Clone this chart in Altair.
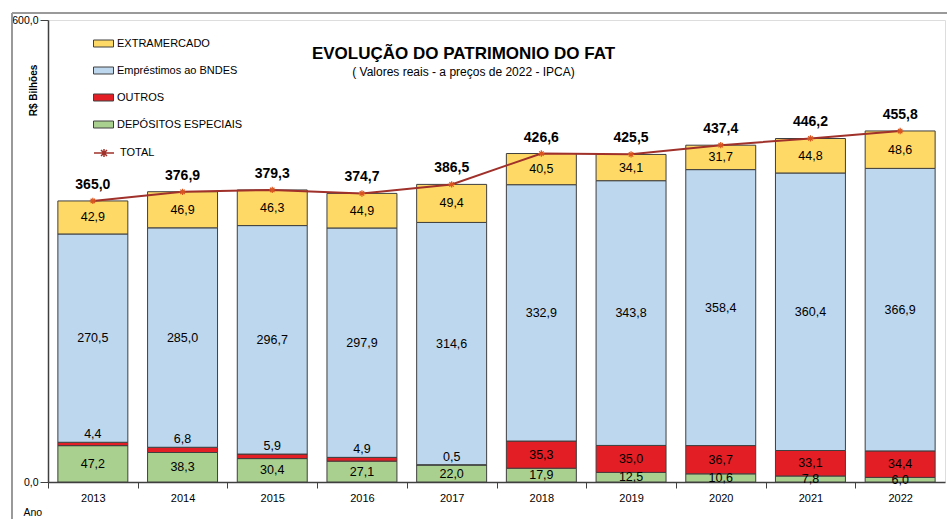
import altair as alt
import pandas as pd

anos = ["2013", "2014", "2015", "2016", "2017", "2018", "2019", "2020", "2021", "2022"]
depositos = [47.2, 38.3, 30.4, 27.1, 22.0, 17.9, 12.5, 10.6, 7.8, 6.0]
outros = [4.4, 6.8, 5.9, 4.9, 0.5, 35.3, 35.0, 36.7, 33.1, 34.4]
bndes = [270.5, 285.0, 296.7, 297.9, 314.6, 332.9, 343.8, 358.4, 360.4, 366.9]
extra = [42.9, 46.9, 46.3, 44.9, 49.4, 40.5, 34.1, 31.7, 44.8, 48.6]
total = [365.0, 376.9, 379.3, 374.7, 386.5, 426.6, 425.5, 437.4, 446.2, 455.8]

stack_series = ["DEPÓSITOS ESPECIAIS", "OUTROS", "Empréstimos ao BNDES", "EXTRAMERCADO"]
stack_values = [depositos, outros, bndes, extra]
legend_order = ["EXTRAMERCADO", "Empréstimos ao BNDES", "OUTROS", "DEPÓSITOS ESPECIAIS"]
legend_colors = ["#FFD966", "#BDD7EE", "#E41E25", "#A9D08E"]

FONT = "Liberation Sans"


def fmt(v):
    return f"{v:.1f}".replace(".", ",")


rows = []
for i, ano in enumerate(anos):
    base = 0.0
    for s, vals in zip(stack_series, stack_values):
        v = vals[i]
        rows.append({
            "ano": ano, "serie": s, "valor": v,
            "start": base, "end": base + v, "mid": base + v / 2,
            "label": fmt(v),
            "above": (s == "OUTROS" and v < 10),
        })
        base += v
df = pd.DataFrame(rows)

tot = pd.DataFrame({"ano": anos, "total": total, "label": [fmt(v) for v in total],
                    "serie": ["TOTAL"] * len(anos)})

band = 897 / 10

x_enc = alt.X(
    "ano:N",
    sort=anos,
    scale=alt.Scale(paddingInner=0.22, paddingOuter=0.11),
    axis=alt.Axis(
        title="Ano", labelAngle=0, tickOffset=-band / 2, labelOffset=band / 2,
        tickSize=6, tickColor="#404040", domainColor="#404040", domainWidth=1.5,
        labelFontSize=11, labelFont=FONT, labelColor="#000000", labelPadding=4,
        titleFont=FONT, titleFontSize=10.5, titleFontWeight="normal", titleColor="#000000",
        titleX=-25, titleY=30, titleAlign="left", titleBaseline="middle",
    ),
)

y_scale = alt.Scale(domain=[0, 600], nice=False)
y_axis = alt.Axis(
    title="R$ Bilhões", values=[0, 600], grid=False,
    labelExpr="replace(format(datum.value, '.1f'), '.', ',')",
    tickSize=8, tickColor="#404040", domainColor="#404040", domainWidth=1.5,
    labelFontSize=10.5, labelFont=FONT, labelColor="#000000", labelPadding=2,
    titleFont=FONT, titleFontSize=10, titleFontWeight="bold", titleColor="#000000",
    titleX=-15, titleY=70, titleAngle=270, titleAlign="center", titleBaseline="middle",
)

rect_path = "M-1,-0.35H1V0.35H-1Z"
total_path = "M-1,0H1M-0.3,-0.3L0.3,0.3M-0.3,0.3L0.3,-0.3M0,-0.4V0.4M-0.4,0H0.4"
star_path = "M-1,0H1M0,-1V1M-0.7,-0.7L0.7,0.7M-0.7,0.7L0.7,-0.7"

bars = alt.Chart(df).mark_bar(stroke="#3F3F3F", strokeWidth=1).encode(
    x=x_enc,
    y=alt.Y("start:Q", scale=y_scale, axis=y_axis),
    y2="end:Q",
    fill=alt.Fill(
        "serie:N",
        scale=alt.Scale(domain=legend_order, range=legend_colors),
        legend=alt.Legend(
            orient="none", legendX=45, legendY=13, title=None,
            symbolType=rect_path, symbolSize=400, symbolStrokeColor="#404040",
            symbolStrokeWidth=1, symbolOpacity=1, labelFontSize=11, labelFont=FONT,
            labelColor="#000000", rowPadding=11, labelOffset=3, padding=0,
        ),
    ),
)

txt_mid = alt.Chart(df).transform_filter("!datum.above").mark_text(
    fontSize=12.5, font=FONT, color="#000000", baseline="middle"
).encode(x=alt.X("ano:N", sort=anos), y=alt.Y("mid:Q"), text="label:N")

txt_above = alt.Chart(df).transform_filter("datum.above").mark_text(
    fontSize=12.5, font=FONT, color="#000000", baseline="middle", dy=-8
).encode(x=alt.X("ano:N", sort=anos), y=alt.Y("end:Q"), text="label:N")

line = alt.Chart(tot).mark_line(strokeWidth=2).encode(
    x=alt.X("ano:N", sort=anos),
    y=alt.Y("total:Q"),
    stroke=alt.Stroke(
        "serie:N",
        scale=alt.Scale(domain=["TOTAL"], range=["#A0302A"]),
        legend=alt.Legend(
            orient="none", legendX=45, legendY=122, title=None,
            symbolType=total_path, symbolSize=400, symbolStrokeWidth=1.5,
            labelFontSize=11, labelFont=FONT, labelColor="#000000",
            labelOffset=5, padding=0,
        ),
    ),
)

pts = alt.Chart(tot).mark_point(
    shape=star_path, size=40, filled=False, stroke="#D9541E", strokeWidth=1.2, opacity=1
).encode(x=alt.X("ano:N", sort=anos), y=alt.Y("total:Q"))

tot_txt = alt.Chart(tot).mark_text(
    fontSize=14, font=FONT, fontWeight="bold", color="#000000", baseline="middle", dy=-16
).encode(x=alt.X("ano:N", sort=anos), y=alt.Y("total:Q"), text="label:N")

# outer frame of the picture (decoration)
frame_top = alt.Chart(tot).mark_rule(color="#9A9A9A", strokeWidth=1.2).encode(
    x=alt.value(-36), x2=alt.value(899), y=alt.value(-7)
)
frame_left = alt.Chart(tot).mark_rule(color="#9A9A9A", strokeWidth=1.2).encode(
    x=alt.value(-36), y=alt.value(-7), y2=alt.value(499)
)

chart = alt.layer(frame_top, frame_left, bars, txt_mid, txt_above, line, pts, tot_txt).properties(
    width=897, height=462,
    autosize=alt.AutoSizeParams(type="none"),
    padding={"left": 48, "top": 20, "right": 2, "bottom": 37},
    title=alt.TitleParams(
        text="EVOLUÇÃO DO PATRIMONIO DO FAT",
        subtitle="( Valores reais - a preços de 2022 - IPCA)",
        anchor="middle", dx=-33, offset=-67, frame="group", orient="top",
        font=FONT, fontSize=17, fontWeight="bold", color="#000000",
        subtitleFont=FONT, subtitleFontSize=12, subtitleColor="#000000", subtitlePadding=4,
    ),
).configure_view(
    fill="#E2EFDA", stroke="#8C8C8C", strokeWidth=1.5
).configure(background="#FFFFFF")

chart.save("out.html", embed_options={"renderer": "svg", "actions": False})
